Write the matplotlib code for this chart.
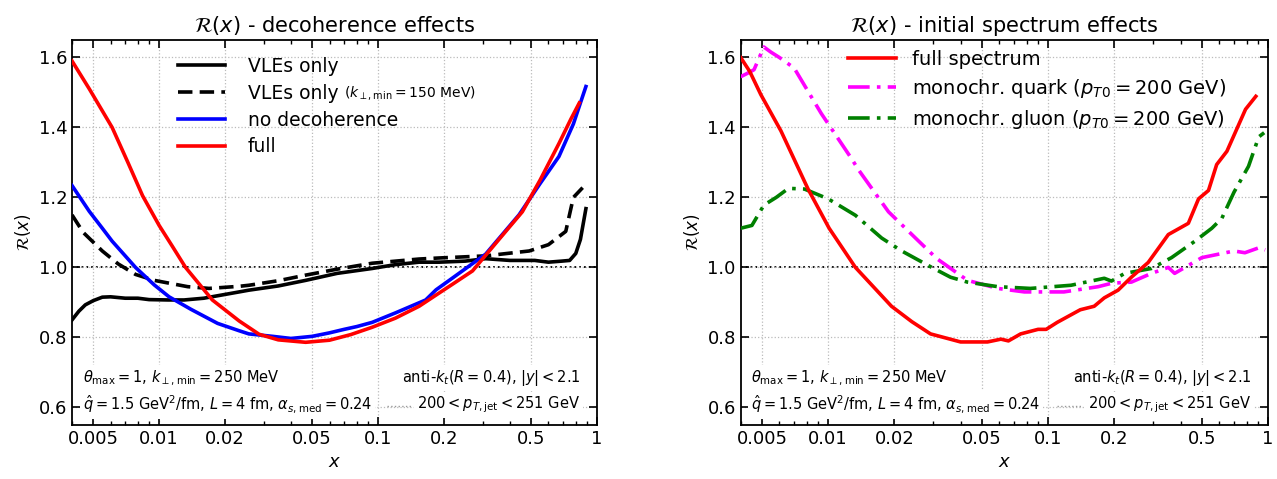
import matplotlib
matplotlib.use("Agg")
import matplotlib.pyplot as plt
from matplotlib.lines import Line2D
from matplotlib.ticker import FixedLocator, FixedFormatter, LogLocator, NullFormatter

plt.rcParams['font.family'] = ['DejaVu Sans']
plt.rcParams['mathtext.fontset'] = 'dejavusans'

# ---- left panel: decoherence effects ----
x_vle = [0.004, 0.0043, 0.0046, 0.005, 0.0055, 0.006, 0.007, 0.008, 0.009, 0.011, 0.013, 0.016,
         0.0232, 0.0257, 0.035, 0.0467, 0.065, 0.094, 0.12, 0.154, 0.19, 0.25, 0.31, 0.4, 0.52,
         0.6, 0.69, 0.75, 0.8, 0.84, 0.89]
vle_only = [0.85, 0.875, 0.893, 0.905, 0.915, 0.916, 0.912, 0.912, 0.908, 0.907, 0.907, 0.912,
            0.93, 0.935, 0.947, 0.963, 0.983, 0.997, 1.008, 1.015, 1.015, 1.018, 1.025, 1.02, 1.02,
            1.015, 1.018, 1.02, 1.04, 1.08, 1.168]

x_vle150 = [0.004, 0.0045, 0.0055, 0.0065, 0.0078, 0.0095, 0.0111, 0.0135, 0.0169, 0.0232, 0.0257,
            0.035, 0.0467, 0.065, 0.094, 0.154, 0.19, 0.31, 0.49, 0.6, 0.72, 0.78, 0.86]
vle_only150 = [1.15, 1.10, 1.047, 1.01, 0.98, 0.963, 0.955, 0.945, 0.94, 0.946, 0.949,
               0.962, 0.978, 0.995, 1.012, 1.024, 1.027, 1.033, 1.047, 1.065, 1.103, 1.2, 1.228]

x_nodec = [0.004, 0.0048, 0.0055, 0.0061, 0.0078, 0.0095, 0.0111, 0.014, 0.0185, 0.0232, 0.0257,
           0.033, 0.04, 0.05, 0.06, 0.07, 0.08, 0.094, 0.12, 0.165, 0.184, 0.218, 0.31, 0.44,
           0.55, 0.67, 0.78, 0.89]
no_decoh = [1.234, 1.16, 1.112, 1.075, 1.0, 0.95, 0.916, 0.88, 0.84, 0.819, 0.81,
            0.803, 0.797, 0.803, 0.813, 0.823, 0.831, 0.843, 0.87, 0.907, 0.936, 0.969, 1.038, 1.15,
            1.24, 1.317, 1.41, 1.517]

x_full = [0.004, 0.0048, 0.0061, 0.0072, 0.0084, 0.01, 0.0115, 0.0132, 0.0175, 0.0232, 0.0286,
          0.035, 0.0467, 0.06, 0.075, 0.094, 0.12, 0.154, 0.184, 0.22, 0.27, 0.33, 0.4, 0.456,
          0.55, 0.67, 0.76, 0.83]
full = [1.59, 1.51, 1.40, 1.30, 1.205, 1.12, 1.06, 1.0, 0.907, 0.847, 0.809,
        0.793, 0.786, 0.792, 0.808, 0.829, 0.855, 0.889, 0.921, 0.953, 0.99, 1.055, 1.117, 1.159,
        1.25, 1.354, 1.424, 1.47]

# ---- right panel: initial spectrum effects ----
x_spec = [0.004, 0.0044, 0.00494, 0.0061, 0.0081, 0.0101, 0.0133, 0.0194, 0.024, 0.0292, 0.04,
          0.053, 0.061, 0.066, 0.075, 0.09, 0.098, 0.11, 0.14, 0.162, 0.18, 0.208, 0.239, 0.285,
          0.352, 0.434, 0.483, 0.536, 0.584, 0.65, 0.79, 0.88]
full_spectrum = [1.6, 1.56, 1.494, 1.39, 1.224, 1.112, 1.0, 0.889, 0.845, 0.81, 0.787,
                 0.787, 0.795, 0.79, 0.81, 0.823, 0.823, 0.843, 0.879, 0.889, 0.913, 0.935, 0.972, 1.014,
                 1.094, 1.126, 1.196, 1.22, 1.294, 1.332, 1.452, 1.489]

x_quark = [0.004, 0.0043, 0.0046, 0.0051, 0.0055, 0.006, 0.007, 0.0093, 0.0128, 0.0137, 0.0188,
           0.0258, 0.0312, 0.0372, 0.043, 0.059, 0.078, 0.118, 0.169, 0.195, 0.239, 0.295, 0.352,
           0.376, 0.5, 0.7, 0.785, 0.907, 0.97]
mono_quark = [1.545, 1.555, 1.565, 1.63, 1.615, 1.60, 1.57, 1.44, 1.31, 1.28, 1.159,
              1.075, 1.025, 0.991, 0.963, 0.94, 0.93, 0.93, 0.945, 0.955, 0.958, 0.983, 1.0,
              0.983, 1.028, 1.047, 1.042, 1.056, 1.05]

x_gluon = [0.004, 0.0045, 0.0051, 0.0058, 0.0066, 0.0078, 0.01, 0.0133, 0.0175, 0.0216, 0.0296,
           0.036, 0.043, 0.059, 0.083, 0.127, 0.18, 0.194, 0.223, 0.295, 0.364, 0.465, 0.555,
           0.616, 0.7, 0.815, 0.907, 0.96]
mono_gluon = [1.112, 1.12, 1.178, 1.2, 1.226, 1.224, 1.196, 1.149, 1.084, 1.047, 1.0,
              0.972, 0.958, 0.945, 0.94, 0.949, 0.969, 0.961, 0.983, 0.997, 1.028, 1.075, 1.112,
              1.14, 1.215, 1.289, 1.373, 1.385]

xticks = [0.005, 0.01, 0.02, 0.05, 0.1, 0.2, 0.5, 1]
xticklabels = ['0.005', '0.01', '0.02', '0.05', '0.1', '0.2', '0.5', '1']

fig = plt.figure(figsize=(12.77, 4.79), dpi=100)
ax1 = fig.add_axes([0.0564, 0.113, 0.4111, 0.8035])
ax2 = fig.add_axes([0.5800, 0.113, 0.4130, 0.8035])


def style_axis(ax, title):
    ax.set_xscale('log')
    ax.set_xlim(0.004, 1)
    ax.set_ylim(0.55, 1.65)
    ax.xaxis.set_major_locator(FixedLocator(xticks))
    ax.xaxis.set_major_formatter(FixedFormatter(xticklabels))
    ax.xaxis.set_minor_locator(LogLocator(base=10, subs=range(2, 10)))
    ax.xaxis.set_minor_formatter(NullFormatter())
    ax.set_yticks([0.6, 0.8, 1.0, 1.2, 1.4, 1.6])
    ax.set_yticklabels(['0.6', '0.8', '1.0', '1.2', '1.4', '1.6'])
    ax.tick_params(which='both', direction='in', top=True, right=True, labelsize=13)
    ax.tick_params(which='major', length=6, width=1.2)
    ax.tick_params(which='minor', length=3, width=1)
    ax.grid(True, which='major', linestyle=':', color='#bbbbbb', linewidth=0.9)
    ax.axhline(1.0, color='black', linestyle=':', linewidth=1.3, zorder=1)
    for s in ax.spines.values():
        s.set_linewidth(1.3)
    ax.set_xlabel('$x$', fontsize=13)
    ax.set_ylabel(r'$\mathcal{R}(x)$', fontsize=12)
    ax.set_title(r'$\mathcal{R}(x)$ - ' + title, fontsize=15)
    # parameter boxes
    box = dict(facecolor='white', edgecolor='none', pad=2)
    ax.text(0.02, 0.122, r'$\theta_{\max}=1$, $k_{\perp,\min}=250$ MeV', transform=ax.transAxes,
            fontsize=10.5, va='center', ha='left', bbox=box, zorder=3)
    ax.text(0.02, 0.052, r'$\hat{q}=1.5$ GeV$^2$/fm, $L=4$ fm, $\alpha_{s,\mathrm{med}}=0.24$',
            transform=ax.transAxes, fontsize=10.5, va='center', ha='left', bbox=box, zorder=3)
    ax.text(0.968, 0.122, r'anti-$k_t(R=0.4)$, $|y|<2.1$', transform=ax.transAxes,
            fontsize=10.5, va='center', ha='right', bbox=box, zorder=3)
    ax.text(0.968, 0.052, r'$200<p_{T,\mathrm{jet}}<251$ GeV', transform=ax.transAxes,
            fontsize=10.5, va='center', ha='right', bbox=box, zorder=3)
    ax.add_line(Line2D([0.60, 0.645], [0.048, 0.048], transform=ax.transAxes, color='#999999',
                       linestyle=':', linewidth=1, zorder=4))


style_axis(ax1, 'decoherence effects')
style_axis(ax2, 'initial spectrum effects')

lw = 2.6
ax1.plot(x_vle, vle_only, color='black', lw=lw, label='VLEs only', zorder=5)
ax1.plot(x_vle150, vle_only150, color='black', lw=lw, ls=(0, (4, 2)), label='VLEs only', zorder=5)
ax1.plot(x_nodec, no_decoh, color='blue', lw=lw, label='no decoherence', zorder=5)
ax1.plot(x_full, full, color='red', lw=lw, label='full', zorder=6)
leg1 = ax1.legend(loc='upper left', bbox_to_anchor=(0.17, 1.0), frameon=False, fontsize=13.5,
                  handlelength=2.5, handletextpad=1.2, labelspacing=0.42)

ax2.plot(x_spec, full_spectrum, color='red', lw=lw, label='full spectrum', zorder=6)
ax2.plot(x_quark, mono_quark, color='magenta', lw=lw, ls=(0, (6, 2, 1, 2)),
         label=r'monochr. quark ($p_{T0}=200$ GeV)', zorder=5)
ax2.plot(x_gluon, mono_gluon, color='green', lw=lw, ls=(0, (6, 2, 1, 2)),
         label=r'monochr. gluon ($p_{T0}=200$ GeV)', zorder=5)
ax2.legend(loc='upper left', bbox_to_anchor=(0.17, 1.02), frameon=False, fontsize=14,
           handlelength=2.5, handletextpad=0.8, labelspacing=0.42)

# small annotation next to the second legend entry
fig.canvas.draw()
bb = leg1.get_texts()[1].get_window_extent()
inv = fig.transFigure.inverted()
px, py = inv.transform((bb.x1 + 6, (bb.y0 + bb.y1) / 2))
fig.text(px, py, r'$(k_{\perp,\min}=150$ MeV$)$', fontsize=10, va='center', ha='left')

fig.savefig('out.png', dpi=100)
